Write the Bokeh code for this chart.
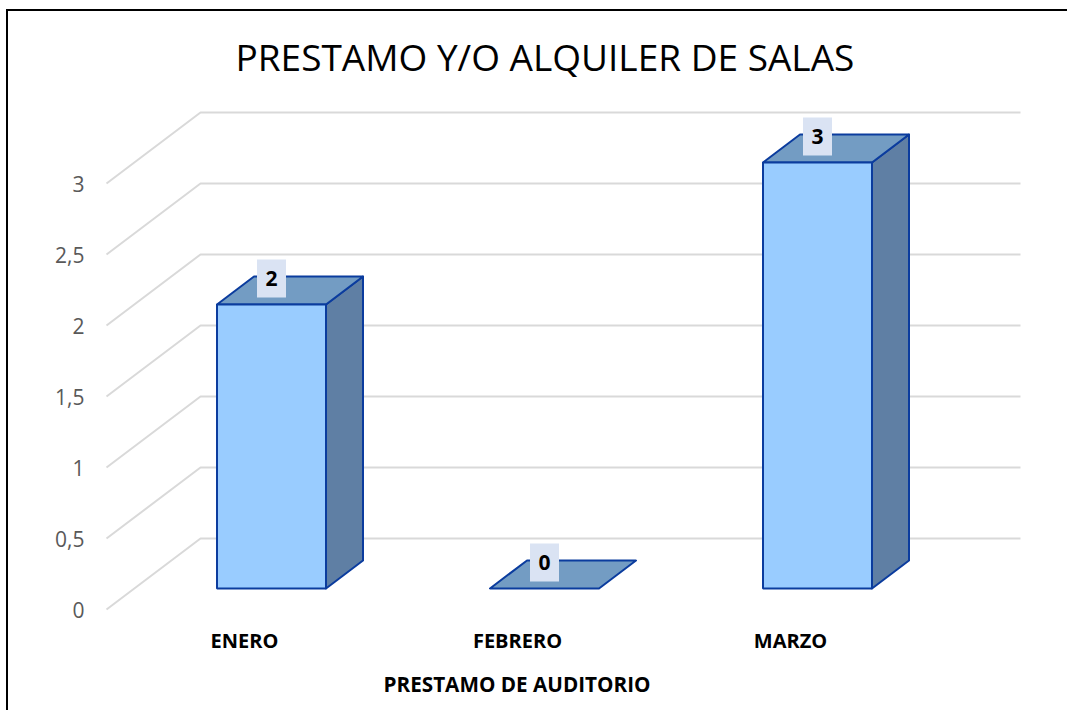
from bokeh.plotting import figure
from bokeh.embed import file_html
from bokeh.resources import INLINE
from bokeh.models import FixedTicker, ColumnDataSource, Title
from bokeh.core.properties import value

title_text = "PRESTAMO Y/O ALQUILER DE SALAS"
x_title = "PRESTAMO DE AUDITORIO"
categories = ["ENERO", "FEBRERO", "MARZO"]
values = [2, 0, 3]
y_ticks = [0, 0.5, 1, 1.5, 2, 2.5, 3]
y_labels = ["0", "0,5", "1", "1,5", "2", "2,5", "3"]

W, H = 1061, 701
ORG_X, ORG_Y = 8, 11
PX_X = 273.0   # pixels per category
PX_Y = 142.0   # pixels per value unit
L, R, T, B = 100 - ORG_X, 0, 100 - ORG_Y, ORG_Y + H - 620

p = figure(width=W, height=H, output_backend="svg", toolbar_location=None,
           x_range=(-144 / PX_X, (ORG_X + W - 244) / PX_X), y_range=(-11 / PX_Y, 509 / PX_Y),
           min_border_left=L, min_border_right=R, min_border_top=T, min_border_bottom=B,
           title=title_text)
p.styles = {"border-left": "2px solid #000", "border-top": "2px solid #000",
            "margin-left": "6px", "margin-top": "9px"}
p.outline_line_color = None
p.grid.visible = False
p.background_fill_color = "#ffffff"
p.border_fill_color = "#ffffff"

p.title.text_font = "Open Sans"
p.title.text_font_size = "37px"
p.title.text_font_style = "normal"
p.title.text_color = "#000000"
p.title.align = "left"
p.title.vertical_align = "top"
p.title.offset = 135
p.title.standoff = 34

ax = p.yaxis[0]
ax.ticker = FixedTicker(ticks=y_ticks)
ax.major_label_overrides = {t: s for t, s in zip(y_ticks, y_labels)}
ax.axis_line_color = None
ax.major_tick_line_color = None
ax.minor_tick_line_color = None
ax.major_tick_in = 0
ax.major_tick_out = 0
ax.major_label_standoff = 16
ax.major_label_text_font = "Open Sans"
ax.major_label_text_font_size = "21px"
ax.major_label_text_color = "#595959"

xa = p.xaxis[0]
xa.ticker = FixedTicker(ticks=list(range(len(categories))))
xa.major_label_overrides = {i: c for i, c in enumerate(categories)}
xa.axis_line_color = None
xa.major_tick_line_color = None
xa.minor_tick_line_color = None
xa.major_tick_in = 0
xa.major_tick_out = 0
xa.major_label_standoff = 6
xa.major_label_text_font = "Open Sans"
xa.major_label_text_font_style = "bold"
xa.major_label_text_font_size = "20px"
xa.major_label_text_color = "#000000"

axis_title = Title(text=x_title, text_font="Open Sans", text_font_style="bold",
                   text_font_size="20.7px", text_color="#000000", align="left",
                   offset=283, standoff=23)
p.add_layout(axis_title, "below")

# depth of the 3-D plot box and of the bars, in data units
BOX_DX, BOX_DY = 94 / PX_X, 71 / PX_Y
GRID_X0, GRID_X1 = -138 / PX_X, 776 / PX_X
gx, gy = [], []
for t in y_ticks:
    gx.append([GRID_X0, GRID_X0 + BOX_DX, GRID_X1])
    gy.append([t, t + BOX_DY, t + BOX_DY])
p.multi_line(gx, gy, line_color="#d9d9d9", line_width=2)

OFF_X, OFF_Y = 27 / PX_X, 21 / PX_Y
HALF = 54.5 / PX_X
DX, DY = 37 / PX_X, 28 / PX_Y
LINE = "#0b3c9e"

for i, v in enumerate(values):
    x0, x1 = i + OFF_X - HALF, i + OFF_X + HALF
    y0, y1 = OFF_Y, OFF_Y + v
    if v > 0:
        p.patch([x1, x1 + DX, x1 + DX, x1], [y0, y0 + DY, y1 + DY, y1],
                fill_color="#5f7fa4", line_color=LINE, line_width=2, line_join="round")
    p.patch([x0, x1, x1 + DX, x0 + DX], [y1, y1, y1 + DY, y1 + DY],
            fill_color="#739cc3", line_color=LINE, line_width=2, line_join="round")
    if v > 0:
        p.quad(left=[x0], right=[x1], bottom=[y0], top=[y1],
               fill_color="#99ccff", line_color=LINE, line_width=2)

label_src = ColumnDataSource(dict(
    x=[i + OFF_X for i in range(len(values))],
    y=[OFF_Y + v + 26 / PX_Y for v in values],
    t=[str(v) for v in values]))
p.rect("x", "y", width=29, height=38, width_units="screen", height_units="screen",
       source=label_src, fill_color="#dae3f3", line_color=None)
p.text("x", "y", text="t", source=label_src, text_align="center", text_baseline="middle",
       text_font=value("Open Sans"), text_font_style="bold", text_font_size="21px",
       text_color="#000000")

open("out.html", "w").write(file_html(p, INLINE))
